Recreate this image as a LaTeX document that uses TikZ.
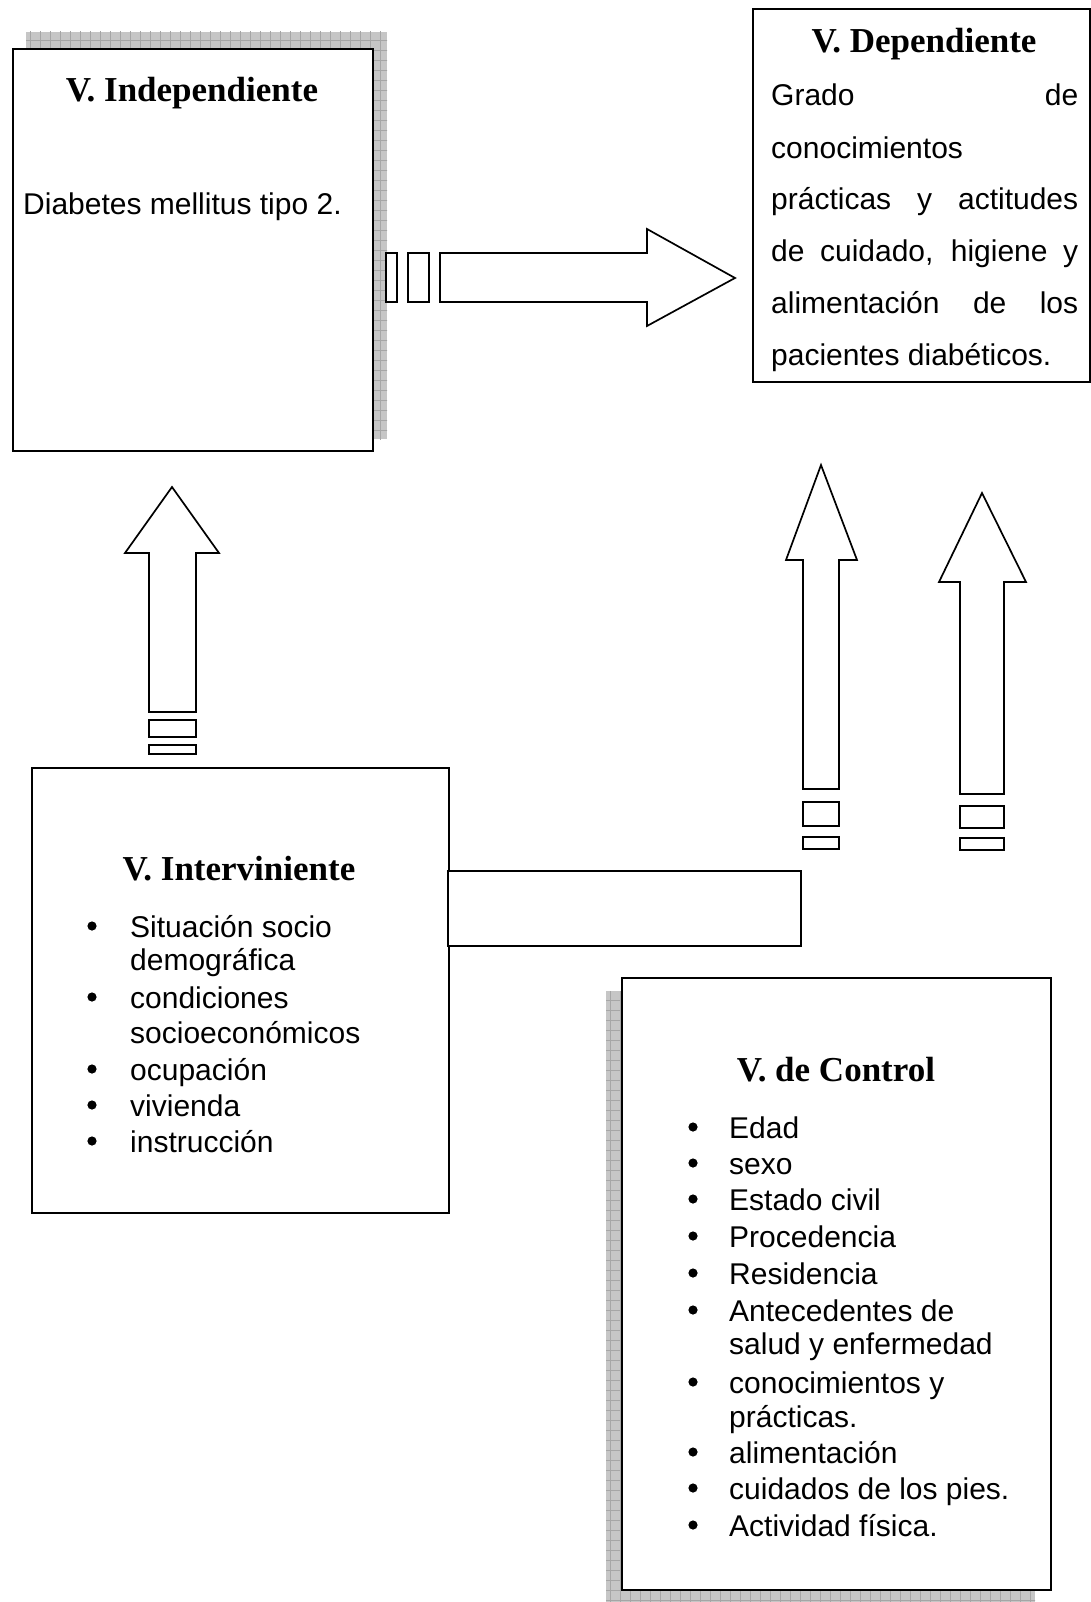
\documentclass[tikz,border=0pt]{standalone}
\usepackage{fontspec}
\setmainfont{Liberation Sans}
\newfontfamily\titlefont{Liberation Serif}
\begin{document}
\begin{tikzpicture}[x=1pt,y=-1pt,
  box/.style={draw=black, line width=1.7pt, fill=white, inner sep=0pt, anchor=north west},
  blk/.style={draw=black, line width=1.7pt, fill=white, line join=miter},
  shad/.style={fill=gray!45},
  gridln/.style={draw=gray!70, line width=0.6pt},
  ttl/.style={font=\titlefont\bfseries\fontsize{35}{40}\selectfont, anchor=base, inner sep=0pt},
  txt/.style={font=\fontsize{30}{36}\selectfont, anchor=base west, inner sep=0pt},
  bul/.style={fill=black}]
\useasboundingbox (0,0) rectangle (1090,1602);

% shadow of V. Independiente
\fill[shad] (26,32) rectangle (387,439);
\begin{scope}
\clip (26,32) rectangle (387,439);
\draw[gridln, step=10pt] (20,30) grid (390,440);
\end{scope}
% shadow of V. de Control
\fill[shad] (606,991) rectangle (1035,1602);
\begin{scope}
\clip (606,991) rectangle (1035,1602);
\draw[gridln, step=10pt] (600,990) grid (1040,1610);
\end{scope}

% boxes
\node[box, minimum width=360pt, minimum height=402pt] (indep) at (12,48) {};
\node[box, minimum width=337pt, minimum height=373pt] (dep) at (752,8) {};
\node[box, minimum width=417pt, minimum height=445pt] (inter) at (31,767) {};
\node[box, minimum width=429pt, minimum height=612pt] (ctrl) at (621,977) {};

% link rectangle from V. Interviniente
\draw[blk] (448,871) rectangle (801,946);

% right block arrow
\draw[blk] (386,253) rectangle (397,302);
\draw[blk] (408,253) rectangle (429,302);
\draw[blk] (440,253) -- (647,253) -- (647,229) -- (735,278) -- (647,326) -- (647,302) -- (440,302) -- cycle;

% left up arrow
\draw[blk] (149,712) -- (149,553) -- (125,553) -- (172,487) -- (219,553) -- (196,553) -- (196,712) -- cycle;
\draw[blk] (149,720) rectangle (196,737);
\draw[blk] (149,745) rectangle (196,754);

% right up arrow A
\draw[blk] (803,789) -- (803,560) -- (786,560) -- (821,465) -- (857,560) -- (839,560) -- (839,789) -- cycle;
\draw[blk] (803,802) rectangle (839,826);
\draw[blk] (803,837) rectangle (839,849);

% right up arrow B
\draw[blk] (960,794) -- (960,582) -- (939,582) -- (982,493) -- (1026,582) -- (1004,582) -- (1004,794) -- cycle;
\draw[blk] (960,806) rectangle (1004,828);
\draw[blk] (960,838) rectangle (1004,850);

% V. Independiente
\node[ttl] (t1) at (192,102) {V. Independiente};
\node[txt] (d1) at (23,215) {Diabetes mellitus tipo 2.};

% V. Dependiente
\node[ttl] (t2) at (924,53) {V. Dependiente};
\node[txt] (g1) at (771,106) {\makebox[307pt][s]{Grado de}};
\node[txt] (g2) at (771,159) {conocimientos};
\node[txt] (g3) at (771,210) {\makebox[307pt][s]{prácticas y actitudes}};
\node[txt] (g4) at (771,262) {\makebox[307pt][s]{de cuidado, higiene y}};
\node[txt] (g5) at (771,313) {\makebox[307pt][s]{alimentación de los}};
\node[txt] (g6) at (771,365) {pacientes diabéticos.};

% V. Interviniente
\node[ttl] (t3) at (239,880) {V. Interviniente};
\node[txt] (i1) at (130,937) {Situación socio};
\node[txt] (i1b) at (130,970) {demográfica};
\node[txt] (i2) at (130,1008) {condiciones};
\node[txt] (i2b) at (130,1043) {socioeconómicos};
\node[txt] (i3) at (130,1080) {ocupación};
\node[txt] (i4) at (130,1116) {vivienda};
\node[txt] (i5) at (130,1152) {instrucción};
\foreach \yy in {937,1008,1080,1116,1152} \fill[bul] (92,\yy-11) circle (4.6pt);

% V. de Control
\node[ttl] (t4) at (836,1081) {V. de Control};
\node[txt] (c1) at (729,1138) {Edad};
\node[txt] (c2) at (729,1174) {sexo};
\node[txt] (c3) at (729,1210) {Estado civil};
\node[txt] (c4) at (729,1247) {Procedencia};
\node[txt] (c5) at (729,1284) {Residencia};
\node[txt] (c6) at (729,1321) {Antecedentes de};
\node[txt] (c6b) at (729,1354) {salud y enfermedad};
\node[txt] (c7) at (729,1393) {conocimientos y};
\node[txt] (c7b) at (729,1427) {prácticas.};
\node[txt] (c8) at (729,1463) {alimentación};
\node[txt] (c9) at (729,1499) {cuidados de los pies.};
\node[txt] (c10) at (729,1536) {Actividad física.};
\foreach \yy in {1138,1174,1210,1247,1284,1321,1393,1463,1499,1536} \fill[bul] (693,\yy-11) circle (4.6pt);
\end{tikzpicture}
\end{document}
